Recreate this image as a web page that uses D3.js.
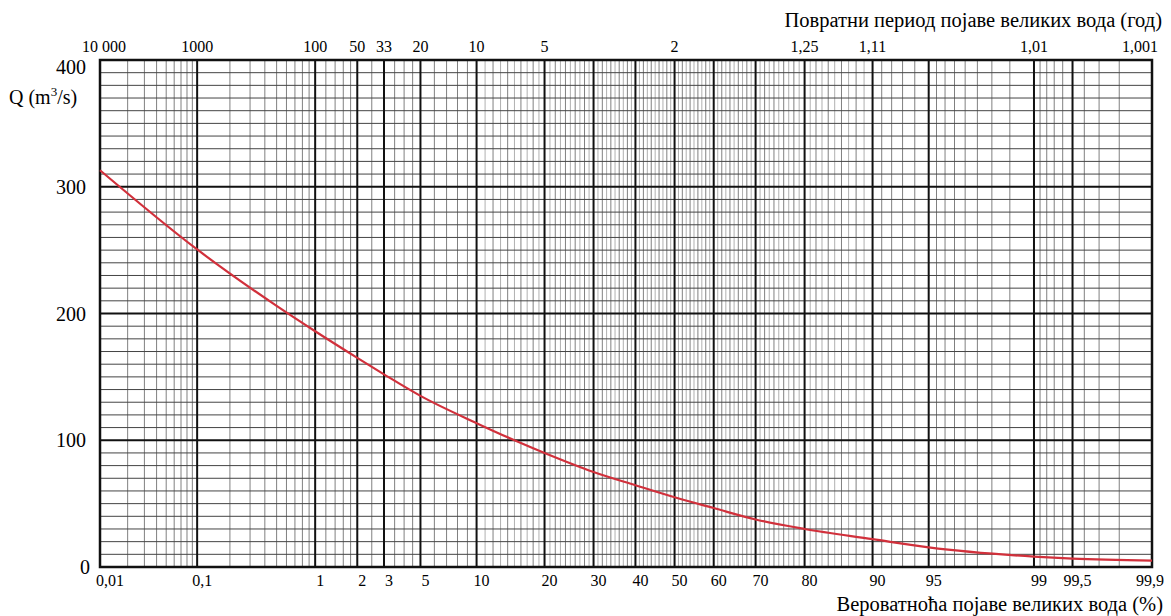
<!DOCTYPE html>
<html>
<head>
<meta charset="utf-8">
<script src="https://cdn.jsdelivr.net/npm/d3@7"></script>
<style>
  body { margin: 0; background: #fff; }
  svg { display: block; font-family: "Liberation Serif", "DejaVu Serif", "Times New Roman", serif; }
</style>
</head>
<body>
<div id="chart"></div>
<script>
// exceedance probability ticks (%) on the bottom axis
const probTicks = [0.01, 0.1, 1, 2, 3, 5, 10, 20, 30, 40, 50, 60, 70, 80, 90, 95, 99, 99.5, 99.9]
const probLabels = ['0,01', '0,1', '1', '2', '3', '5', '10', '20', '30', '40', '50', '60', '70', '80', '90', '95', '99', '99,5', '99,9']

// return period ticks (years) on the top axis
const periodProbs = [0.01, 0.1, 1, 2, 3, 5, 10, 20, 50, 80, 90, 99, 99.9]
const periodLabels = ['10 000', '1000', '100', '50', '33', '20', '10', '5', '2', '1,25', '1,11', '1,01', '1,001']

// thin grid lines of the probability paper
const minorProbs = [
  0.02, 0.03, 0.04, 0.05, 0.06, 0.07, 0.08, 0.09,
  0.2, 0.3, 0.4, 0.5, 0.6, 0.7, 0.8, 0.9,
  1.2, 1.4, 1.6, 1.8, 2.5, 3.5, 4, 4.5,
  6, 7, 8, 9,
  11, 12, 13, 14, 15, 16, 17, 18, 19,
  21, 22, 23, 24, 25, 26, 27, 28, 29,
  31, 32, 33, 34, 35, 36, 37, 38, 39,
  41, 42, 43, 44, 45, 46, 47, 48, 49,
  51, 52, 53, 54, 55, 56, 57, 58, 59,
  61, 62, 63, 64, 65, 66, 67, 68, 69,
  71, 72, 73, 74, 75, 76, 77, 78, 79,
  81, 82, 83, 84, 85, 86, 87, 88, 89,
  91, 92, 93, 94,
  95.5, 96, 96.5, 97, 97.5, 98, 98.5,
  99.1, 99.2, 99.3, 99.4, 99.6, 99.7, 99.8
]

const qMajor = [0, 100, 200, 300, 400]
const qMinor = d3.range(10, 400, 10).filter(d => d % 100 !== 0)

// discharge curve
const curveProbs = [0.01, 0.1, 0.5, 1, 2, 3, 5, 10, 15, 20, 30, 40, 50, 60, 70, 80, 90, 95, 99, 99.5, 99.9]
const curveQ = [313, 250.5, 206, 186, 165, 152, 135, 113.5, 100, 90, 75, 64.5, 55, 46.5, 37.5, 30, 22, 15.5, 8.2, 6.6, 5]

const width = 1171
const height = 616
const plot = {left: 100, right: 1152, top: 60, bottom: 567}

// inverse standard normal cdf (Acklam)
function normInv(p) {
  const a = [-39.69683028665376, 220.9460984245205, -275.9285104469687, 138.3577518672690, -30.66479806614716, 2.506628277459239]
  const b = [-54.47609879822406, 161.5858368580409, -155.6989798598866, 66.80131188771972, -13.28068155288572]
  const c = [-0.007784894002430293, -0.3223964580411365, -2.400758277161838, -2.549732539343734, 4.374664141464968, 2.938163982698783]
  const dd = [0.007784695709041462, 0.3224671290700398, 2.445134137142996, 3.754408661907416]
  const pl = 0.02425
  let q, r
  if (p < pl) {
    q = Math.sqrt(-2 * Math.log(p))
    return (((((c[0]*q+c[1])*q+c[2])*q+c[3])*q+c[4])*q+c[5]) / ((((dd[0]*q+dd[1])*q+dd[2])*q+dd[3])*q+1)
  }
  if (p > 1 - pl) {
    q = Math.sqrt(-2 * Math.log(1 - p))
    return -(((((c[0]*q+c[1])*q+c[2])*q+c[3])*q+c[4])*q+c[5]) / ((((dd[0]*q+dd[1])*q+dd[2])*q+dd[3])*q+1)
  }
  q = p - 0.5
  r = q * q
  return (((((a[0]*r+a[1])*r+a[2])*r+a[3])*r+a[4])*r+a[5])*q / (((((b[0]*r+b[1])*r+b[2])*r+b[3])*r+b[4])*r+1)
}

const z = pct => normInv(pct / 100)

const xz = d3.scaleLinear()
  .domain([z(0.01), z(99.9)])
  .range([plot.left, plot.right])
const x = pct => xz(z(pct))

const y = d3.scaleLinear()
  .domain([0, 400])
  .range([plot.bottom, plot.top])

const svg = d3.select('#chart').append('svg')
  .attr('width', width)
  .attr('height', height)

const grid = svg.append('g').attr('class', 'grid')

grid.selectAll('.vminor')
  .data(minorProbs)
  .enter().append('line')
  .attr('class', 'vminor')
  .attr('x1', d => x(d)).attr('x2', d => x(d))
  .attr('y1', plot.top).attr('y2', plot.bottom)
  .attr('stroke', d => Number.isInteger(d) && d % 2 === 1 && d > 10 && d < 90 ? '#b0b0b0' : '#808080')
  .attr('stroke-width', 1)

grid.selectAll('.hminor')
  .data(qMinor)
  .enter().append('line')
  .attr('class', 'hminor')
  .attr('x1', plot.left).attr('x2', plot.right)
  .attr('y1', d => y(d)).attr('y2', d => y(d))
  .attr('stroke', '#444')
  .attr('stroke-width', 1)

grid.selectAll('.vmajor')
  .data(probTicks)
  .enter().append('line')
  .attr('class', 'vmajor')
  .attr('x1', d => x(d)).attr('x2', d => x(d))
  .attr('y1', plot.top).attr('y2', plot.bottom)
  .attr('stroke', '#111')
  .attr('stroke-width', 2)

grid.selectAll('.hmajor')
  .data(qMajor)
  .enter().append('line')
  .attr('class', 'hmajor')
  .attr('x1', plot.left).attr('x2', plot.right)
  .attr('y1', d => y(d)).attr('y2', d => y(d))
  .attr('stroke', '#111')
  .attr('stroke-width', 2)

svg.append('rect')
  .attr('x', plot.left).attr('y', plot.top)
  .attr('width', plot.right - plot.left)
  .attr('height', plot.bottom - plot.top)
  .attr('fill', 'none')
  .attr('stroke', '#111')
  .attr('stroke-width', 2.5)

// discharge curve
const line = d3.line()
  .x((d, i) => x(curveProbs[i]))
  .y(d => y(d))
  .curve(d3.curveMonotoneX)

svg.append('path')
  .datum(curveQ)
  .attr('d', line)
  .attr('fill', 'none')
  .attr('stroke', '#d1303b')
  .attr('stroke-width', 2.2)

// bottom labels
svg.append('g').selectAll('text')
  .data(probTicks)
  .enter().append('text')
  .attr('x', (d, i) => x(d) + (i === 0 ? 10 : i === probTicks.length - 1 ? -2 : 5))
  .attr('y', 586)
  .attr('text-anchor', 'middle')
  .attr('font-size', 16)
  .text((d, i) => probLabels[i])

// top labels
svg.append('g').selectAll('text')
  .data(periodProbs)
  .enter().append('text')
  .attr('x', (d, i) => x(d) + (i === 0 ? 4 : i === periodProbs.length - 1 ? 6 : 0))
  .attr('y', 52)
  .attr('text-anchor', (d, i) => i === periodProbs.length - 1 ? 'end' : 'middle')
  .attr('font-size', 16)
  .text((d, i) => periodLabels[i])

// y labels
svg.append('g').selectAll('text')
  .data(qMajor)
  .enter().append('text')
  .attr('x', d => d === 0 ? 90 : 86)
  .attr('y', d => y(d) + (d === 400 ? 14 : 7))
  .attr('text-anchor', 'end')
  .attr('font-size', 20)
  .text(d => d)

const qLabel = svg.append('text')
  .attr('x', 9)
  .attr('y', 104)
  .attr('font-size', 20)
qLabel.append('tspan').text('Q (m')
qLabel.append('tspan').attr('dy', -8).attr('font-size', 13).text('3')
qLabel.append('tspan').attr('dy', 8).text('/s)')

svg.append('text')
  .attr('x', 1162)
  .attr('y', 27)
  .attr('text-anchor', 'end')
  .attr('font-size', 20.5)
  .text('Повратни период појаве великих вода (год)')

svg.append('text')
  .attr('x', 1163)
  .attr('y', 611)
  .attr('text-anchor', 'end')
  .attr('font-size', 20.5)
  .text('Вероватноћа појаве великих вода (%)')
</script>
</body>
</html>
